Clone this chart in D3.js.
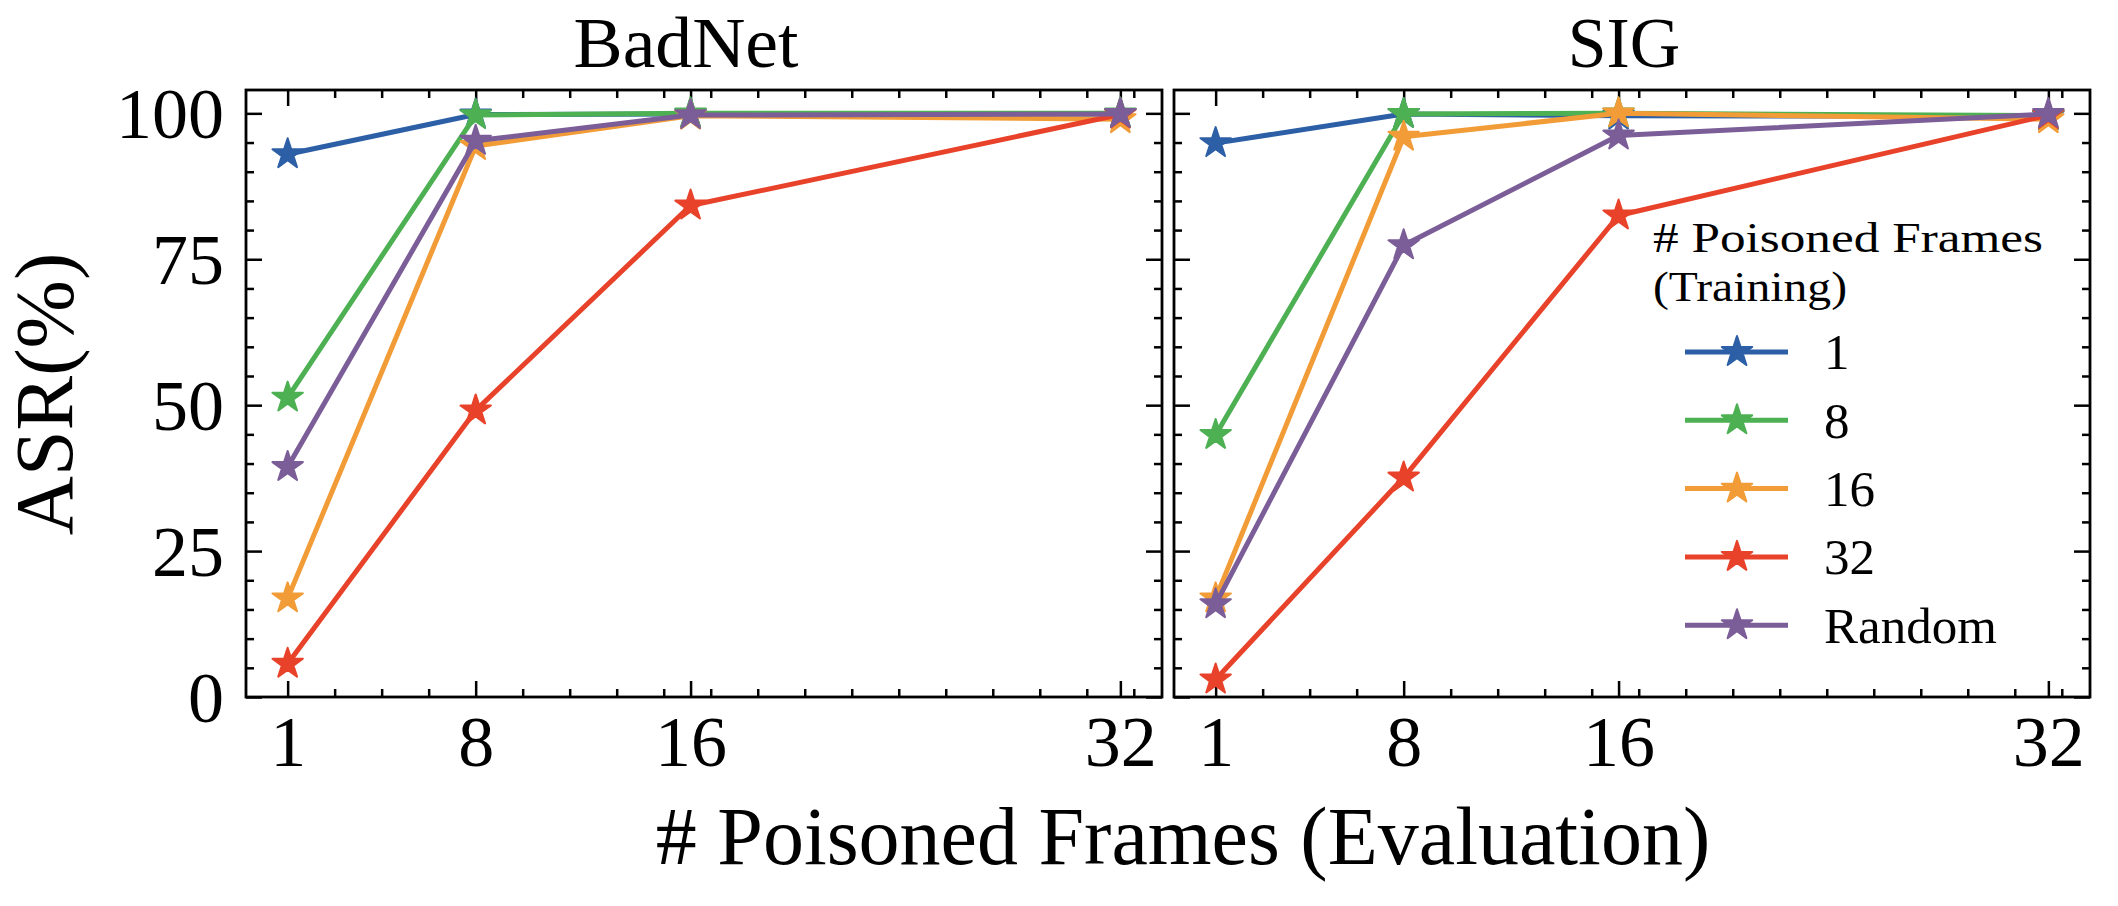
<!DOCTYPE html>
<html>
<head>
  <meta charset="utf-8">
  <title>ASR vs poisoned frames</title>
  <style>
    body { margin: 0; background: #fff; }
    svg { display: block; }
    text { font-family: "Liberation Serif", "DejaVu Serif", serif; fill: #000; }
    .tick line { stroke: #000; stroke-width: 2.5; }
    .domain { display: none; }
  </style>
  <script src="https://d3js.org/d3.v7.min.js"></script>
</head>
<body>
<script>
  // frames used at evaluation time (x axis)
  var evalFrames = [1, 8, 16, 32];
  // frames poisoned during training (one series each)
  var trainFrames = ['1', '8', '16', '32', 'Random'];
  var colors = ['#2c5fa6', '#4db052', '#f29c38', '#e8432a', '#7b5d98'];

  // ASR (%), rows follow trainFrames
  var badnet = [
    [93.0, 99.8, 99.9, 99.9],
    [51.3, 99.7, 100, 100],
    [16.9, 94.4, 99.6, 99.0],
    [5.7, 49.1, 84.2, 99.8],
    [39.4, 95.3, 99.7, 99.9]
  ];
  var sig = [
    [94.9, 99.9, 99.6, 99.5],
    [44.9, 99.9, 100, 99.6],
    [16.9, 96.0, 100, 99.0],
    [3.0, 37.6, 82.5, 99.7],
    [15.9, 77.4, 96.2, 99.9]
  ];
  var yTicks = [0, 25, 50, 75, 100];

  var width = 2118, height = 906;
  var panelW = 916, plotTop = 90, plotBottom = 697;
  var panels = [
    {title: 'BadNet', left: 246, data: badnet, titleX: 686},
    {title: 'SIG', left: 1174, data: sig, titleX: 1624}
  ];

  var svg = d3.select('body').append('svg')
    .attr('width', width)
    .attr('height', height);

  var y = d3.scaleLinear().domain([0, 104]).range([plotBottom, plotTop]);
  var yMinor = d3.range(0, 104, 5).filter(v => v % 25 !== 0);

  // matplotlib style star marker
  function star(r) {
    var pts = [];
    for (var i = 0; i < 10; i++) {
      var a = Math.PI / 5 * i - Math.PI / 2;
      var rr = i % 2 ? r * 0.381966 : r;
      pts.push([rr * Math.cos(a), rr * Math.sin(a)]);
    }
    return 'M' + pts.join('L') + 'Z';
  }
  var starPath = star(16);

  panels.forEach(function(p, pi) {
    var x = d3.scaleLinear().domain([-0.55, 33.55]).range([p.left, p.left + panelW]);
    var xMinor = d3.range(1, 33.56, 1.75).filter(v => evalFrames.indexOf(v) < 0);
    var g = svg.append('g');

    // ticks, all pointing inward
    function ticks(axis, tf, vals, size, tr, labels) {
      var a = axis(tf).tickValues(vals).tickSize(-size).tickSizeOuter(0);
      if (!labels) a.tickFormat('');
      return g.append('g').attr('transform', tr).call(a);
    }
    var xb = ticks(d3.axisBottom, x, evalFrames, 16, 'translate(0,' + plotBottom + ')', true);
    xb.selectAll('text').attr('font-size', 72).attr('dy', '0.71em').attr('y', 18);
    ticks(d3.axisBottom, x, xMinor, 8, 'translate(0,' + plotBottom + ')', false);
    ticks(d3.axisTop, x, evalFrames, 16, 'translate(0,' + plotTop + ')', false);
    ticks(d3.axisTop, x, xMinor, 8, 'translate(0,' + plotTop + ')', false);

    var yl = ticks(d3.axisLeft, y, yTicks, 16, 'translate(' + p.left + ',0)', pi === 0);
    yl.selectAll('text').attr('font-size', 72).attr('x', -22).attr('dy', '0.34em');
    ticks(d3.axisLeft, y, yMinor, 8, 'translate(' + p.left + ',0)', false);
    ticks(d3.axisRight, y, yTicks, 16, 'translate(' + (p.left + panelW) + ',0)', false);
    ticks(d3.axisRight, y, yMinor, 8, 'translate(' + (p.left + panelW) + ',0)', false);

    g.append('rect')
      .attr('x', p.left).attr('y', plotTop)
      .attr('width', panelW).attr('height', plotBottom - plotTop)
      .attr('fill', 'none').attr('stroke', '#000').attr('stroke-width', 2.8);

    var line = d3.line().x(d => x(d[0])).y(d => y(d[1]));

    p.data.forEach(function(vals, si) {
      var pts = vals.map((v, i) => [evalFrames[i], v]);
      var s = g.append('g');
      s.append('path')
        .attr('d', line(pts))
        .attr('fill', 'none')
        .attr('stroke', colors[si])
        .attr('stroke-width', 5)
        .attr('stroke-linejoin', 'round');
      s.selectAll('path.m')
        .data(pts)
        .enter().append('path')
        .attr('class', 'm')
        .attr('d', starPath)
        .attr('transform', d => 'translate(' + x(d[0]) + ',' + y(d[1]) + ')')
        .attr('fill', colors[si])
        .attr('stroke', colors[si])
        .attr('stroke-width', 2)
        .attr('stroke-linejoin', 'round');
    });

    svg.append('text')
      .attr('x', p.titleX).attr('y', 67)
      .attr('text-anchor', 'middle')
      .attr('font-size', 72)
      .attr('textLength', p.title.length * 37.5)
      .attr('lengthAdjust', 'spacingAndGlyphs')
      .text(p.title);
  });

  // axis labels
  svg.append('text')
    .attr('x', 1183).attr('y', 864)
    .attr('text-anchor', 'middle')
    .attr('font-size', 82)
    .text('# Poisoned Frames (Evaluation)');

  svg.append('text')
    .attr('transform', 'translate(72,394) rotate(-90)')
    .attr('text-anchor', 'middle')
    .attr('font-size', 82)
    .text('ASR(%)');

  // legend in the SIG panel
  var lg = svg.append('g');
  lg.append('text').attr('x', 1653).attr('y', 252).attr('font-size', 43)
    .attr('textLength', 390).attr('lengthAdjust', 'spacingAndGlyphs')
    .text('# Poisoned Frames');
  lg.append('text').attr('x', 1653).attr('y', 301).attr('font-size', 43)
    .attr('textLength', 194).attr('lengthAdjust', 'spacingAndGlyphs')
    .text('(Training)');

  var item = lg.selectAll('g.item')
    .data(trainFrames)
    .enter().append('g')
    .attr('class', 'item')
    .attr('transform', (d, i) => 'translate(0,' + (352 + i * 68.3) + ')');
  item.append('line')
    .attr('x1', 1685).attr('x2', 1788)
    .attr('stroke', (d, i) => colors[i])
    .attr('stroke-width', 5);
  item.append('path')
    .attr('d', starPath)
    .attr('transform', 'translate(1737,0)')
    .attr('fill', (d, i) => colors[i])
    .attr('stroke', (d, i) => colors[i])
    .attr('stroke-width', 2)
    .attr('stroke-linejoin', 'round');
  item.append('text')
    .attr('x', 1824).attr('dy', '0.34em')
    .attr('font-size', 51)
    .text(d => d);
</script>
</body>
</html>
